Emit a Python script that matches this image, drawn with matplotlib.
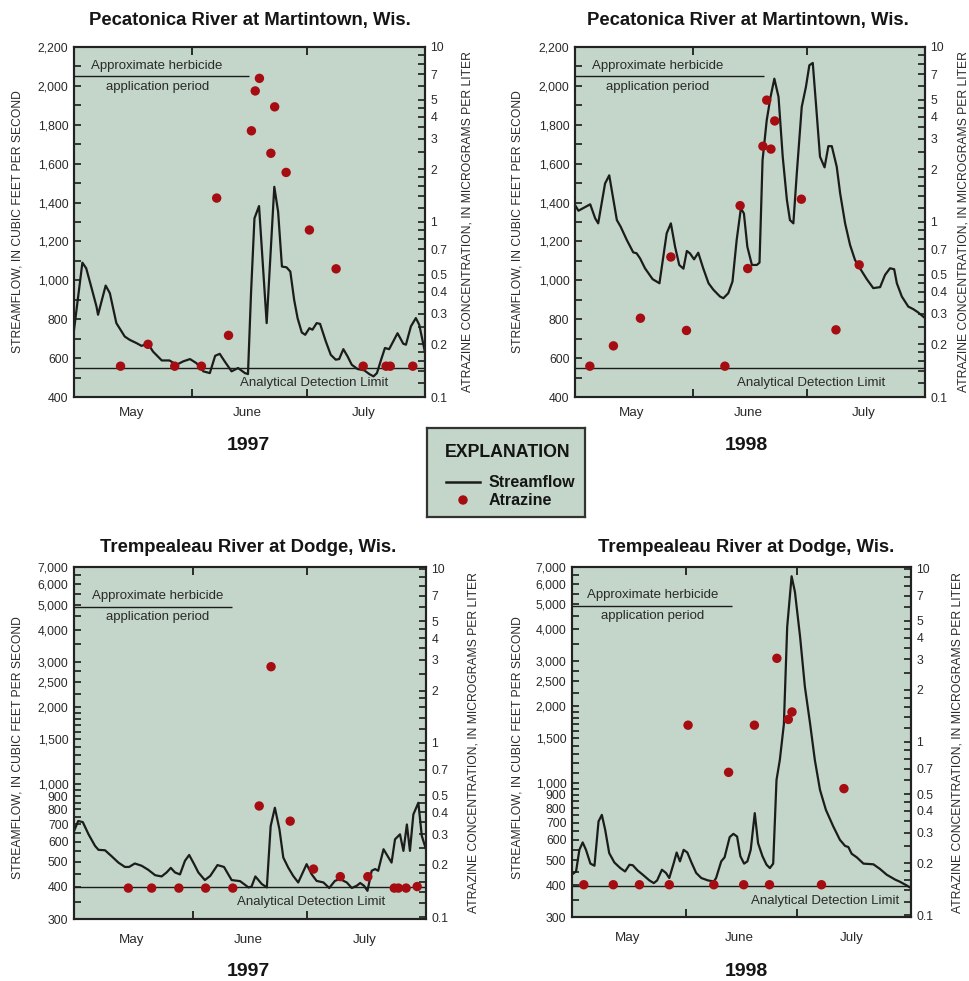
import matplotlib
matplotlib.use('Agg')
import matplotlib.pyplot as plt
from matplotlib.ticker import FixedLocator, NullFormatter, FuncFormatter

FONT = ['Liberation Sans', 'DejaVu Sans']
plt.rcParams['font.family'] = FONT

# ---------------- data (days since May 1) ----------------
months = ['May', 'June', 'July']
month_bounds = [31, 61]
month_mids = [15, 45.5, 76]
period_len = 92

titles = ['Pecatonica River at Martintown, Wis.', 'Pecatonica River at Martintown, Wis.',
          'Trempealeau River at Dodge, Wis.', 'Trempealeau River at Dodge, Wis.']
years = ['1997', '1998', '1997', '1998']

# Pecatonica 1997
p1_days = [0, 2.2, 3.2, 4.5, 5.9, 6.3, 8.3, 9.4, 11.1, 13.3, 14.6, 16.4, 17.7, 19.4, 20.7,
           23.0, 25.0, 26.9, 28.6, 30.4, 32.1, 33.9, 35.6, 37.0, 38.2, 39.5, 41.3, 43.0, 44.8,
           45.6, 46.4, 47.3, 48.5, 50.5, 52.5, 53.5, 54.5, 55.7, 56.7, 57.7, 58.6, 59.7, 60.6,
           61.7, 62.5, 63.6, 64.5, 66.0, 67.3, 68.6, 69.5, 70.6, 71.7, 72.8, 74.3, 76.1, 77.4,
           78.5, 79.4, 80.5, 81.5, 82.6, 84.8, 86.3, 87.0, 88.3, 89.6, 90.5, 92.0]
p1_flow = [745, 1091, 1062, 968, 865, 823, 973, 934, 780, 711, 694, 677, 663, 674, 634,
           588, 588, 566, 583, 595, 574, 532, 523, 612, 622, 583, 532, 549, 523,
           518, 934, 1319, 1382, 780, 1481, 1353, 1071, 1067, 1045, 900, 806, 732, 720,
           754, 746, 780, 776, 686, 617, 592, 595, 646, 609, 566, 544, 537, 518,
           506, 523, 592, 652, 646, 728, 674, 669, 763, 806, 771, 630]
p1_atz_days = [12.2, 19.4, 26.4, 33.4, 37.4, 40.5, 46.5, 47.5, 48.6, 51.6, 52.6, 55.6,
               61.7, 68.7, 75.8, 81.8, 82.9, 88.8]
p1_atz = [0.15, 0.20, 0.15, 0.15, 1.37, 0.225, 3.32, 5.61, 6.62, 2.47, 4.55, 1.92,
          0.90, 0.54, 0.15, 0.15, 0.15, 0.15]

# Pecatonica 1998
p2_days = [0, 0.9, 4.0, 5.3, 6.1, 7.9, 9.0, 11.0, 12.0, 13.6, 15.3, 16.2, 17.1, 18.4, 20.4,
           22.2, 24.1, 25.2, 26.3, 27.4, 28.5, 29.4, 30.2, 31.3, 32.4, 33.7, 35.1, 36.4, 38.1,
           39.0, 40.3, 41.4, 42.5, 43.6, 44.4, 45.3, 46.5, 47.8, 48.5, 49.3, 50.4, 51.4, 52.4,
           53.5, 54.6, 55.7, 56.5, 57.4, 58.3, 59.6, 60.7, 61.6, 62.5, 63.4, 64.4, 65.6, 66.6,
           67.5, 68.8, 69.7, 71.0, 72.3, 73.6, 74.9, 76.7, 78.4, 80.2, 81.5, 82.8, 83.9, 84.6,
           85.9, 87.6, 88.9, 90.2, 92.0]
p2_flow = [1387, 1358, 1391, 1319, 1293, 1498, 1540, 1310, 1276, 1208, 1144, 1139, 1113, 1062,
           1006, 985, 1242, 1293, 1173, 1079, 1060, 1151, 1139, 1108, 1142, 1062, 985, 951, 917,
           908, 934, 994, 1208, 1370, 1344, 1173, 1079, 1079, 1091, 1618, 1824, 1943, 2037,
           1943, 1636, 1413, 1310, 1293, 1550, 1892, 1995, 2106, 2118, 1892, 1636, 1581, 1690,
           1690, 1584, 1447, 1293, 1182, 1105, 1062, 1006, 960, 965, 1028, 1062, 1057, 985,
           917, 865, 852, 835, 806]
p2_atz_days = [3.9, 10.1, 17.2, 25.2, 29.3, 39.4, 43.4, 45.4, 49.4, 50.4, 51.5, 52.5,
               59.5, 68.6, 74.7]
p2_atz = [0.15, 0.196, 0.282, 0.631, 0.240, 0.15, 1.24, 0.542, 2.71, 4.97, 2.61, 3.78,
          1.35, 0.242, 0.569]

# Trempealeau 1997
p3_days = [0, 1.1, 2.3, 3.8, 5.5, 6.4, 8.1, 9.9, 11.6, 13.3, 14.4, 15.9, 17.7, 19.4, 21.2,
           22.9, 24.2, 25.3, 26.4, 27.7, 29.0, 30.1, 31.4, 32.5, 34.2, 35.6, 37.5, 39.2, 41.2,
           43.4, 45.6, 46.4, 47.4, 49.1, 50.4, 51.4, 52.5, 53.7, 54.7, 56.0, 57.3, 58.6, 60.8,
           62.1, 63.4, 65.2, 66.7, 68.2, 69.5, 71.3, 72.6, 73.9, 74.8, 75.8, 76.7, 77.8, 78.7,
           79.5, 80.9, 82.2, 83.0, 83.9, 85.2, 86.1, 87.0, 87.8, 88.7, 90.0, 90.9, 92.0]
p3_flow = [659, 721, 714, 640, 577, 557, 555, 525, 497, 478, 478, 493, 483, 466, 444,
           439, 455, 474, 455, 447, 505, 532, 490, 455, 425, 441, 486, 478, 425,
           421, 398, 401, 439, 410, 398, 689, 812, 669, 520, 475, 441, 416, 490,
           448, 422, 416, 396, 422, 429, 416, 396, 404, 414, 404, 386, 462, 469,
           462, 560, 520, 497, 612, 640, 552, 699, 552, 765, 849, 631, 560]
p3_atz_days = [14.2, 20.3, 27.4, 34.4, 41.5, 48.4, 51.5, 56.5, 62.6, 69.6, 76.8, 83.7,
               84.8, 86.8, 89.7]
p3_atz = [0.147, 0.147, 0.147, 0.147, 0.147, 0.435, 2.74, 0.356, 0.189, 0.171, 0.171,
          0.147, 0.147, 0.147, 0.150]

# Trempealeau 1998
p4_days = [0, 1.1, 2.0, 2.9, 3.8, 5.0, 6.1, 7.2, 8.1, 9.0, 10.1, 11.5, 13.1, 14.4, 15.6,
           16.5, 17.8, 19.2, 21.0, 22.2, 23.1, 24.4, 25.5, 26.4, 27.6, 28.4, 29.3, 30.3, 31.3,
           32.5, 33.7, 35.1, 36.9, 38.5, 39.1, 40.5, 41.4, 42.8, 43.8, 44.8, 45.7, 46.7, 47.6,
           48.5, 49.6, 50.5, 51.7, 52.8, 53.7, 54.6, 55.5, 56.4, 57.5, 58.4, 59.6, 60.5, 61.9,
           63.2, 64.6, 65.9, 67.3, 68.9, 70.9, 72.7, 74.1, 75.0, 75.9, 77.3, 79.1, 81.8, 83.6,
           85.4, 87.7, 89.0, 90.9, 92.0]
p4_flow = [440, 452, 549, 587, 549, 485, 476, 709, 752, 658, 533, 490, 466, 452, 480,
           478, 456, 439, 417, 407, 417, 459, 446, 426, 487, 536, 495, 549, 536,
           487, 446, 426, 417, 413, 426, 495, 513, 616, 634, 619, 518, 485, 495,
           549, 764, 583, 518, 480, 466, 485, 1030, 1233, 1700, 4085, 6440, 5594, 3734,
           2383, 1715, 1233, 942, 787, 678, 601, 569, 563, 530, 513, 485, 482, 462,
           439, 420, 412, 398, 389]
p4_atz_days = [3.2, 11.2, 18.3, 26.4, 31.5, 38.5, 42.5, 46.6, 49.5, 53.6, 55.6, 58.7,
               59.7, 67.7, 73.8]
p4_atz = [0.15, 0.15, 0.15, 0.15, 1.25, 0.15, 0.668, 0.15, 1.25, 0.15, 3.04, 1.35,
          1.49, 0.15, 0.538]

# herbicide application period end (days) and detection limits (ug/L)
app_end = [45.9, 49.7, 41.2, 43.3]
app_level = [2050, 2050, 4900, 4950]
det_limit = [0.147, 0.147, 0.150, 0.148]

# axis tick values
lin_major = list(range(400, 2201, 200))
lin_minor = list(range(500, 2200, 200))
log_major = [300, 400, 500, 600, 700, 800, 900, 1000, 1500, 2000, 2500, 3000, 4000, 5000, 6000, 7000]
log_minor = [350, 450, 550, 650, 750, 850, 950, 1100, 1200, 1300, 1400, 1600, 1700,
             1800, 1900, 2250, 2750, 3500, 4500, 5500, 6500]
atz_major = [0.1, 0.2, 0.3, 0.4, 0.5, 0.7, 1, 2, 3, 4, 5, 7, 10]
atz_minor = [0.12, 0.14, 0.16, 0.18, 0.25, 0.35, 0.45, 0.6, 0.8, 0.9,
             1.2, 1.4, 1.6, 1.8, 2.5, 3.5, 4.5, 6, 8, 9]

left_label = 'STREAMFLOW, IN CUBIC FEET PER SECOND'
right_label = 'ATRAZINE CONCENTRATION, IN MICROGRAMS PER LITER'

# ---------------- style ----------------
BG = '#c3d6c9'
DOT = '#a50d12'
INK = '#1c1c1c'
TXT = '#2a2a2a'
W, H = 969, 981

fig = plt.figure(figsize=(W / 100, H / 100), dpi=100)


def rect(l, t, r, b):
    return [l / W, 1 - b / H, (r - l) / W, (b - t) / H]


def fx(x):
    return x / W


def fy(y):
    return 1 - y / H


def comma(v, _):
    return f'{v:,.0f}'


def gfmt(v, _):
    return f'{v:g}'


def panel(i, box, log_flow, days, flow, a_days, a_vals, det_text_day, month_pad):
    ax = fig.add_axes(rect(*box))
    ax.set_facecolor(BG)
    ax.plot(days, flow, color=INK, lw=1.6, zorder=2)
    ax.hlines(app_level[i], 0, app_end[i], color=INK, lw=1.0, zorder=2)
    ax.annotate('Approximate herbicide', xy=(21.8, app_level[i]), xytext=(0, 7.5),
                textcoords='offset points', ha='center', va='center', fontsize=9.5, color=TXT)
    ax.annotate('application period', xy=(21.8, app_level[i]), xytext=(0, -7.5),
                textcoords='offset points', ha='center', va='center', fontsize=9.5, color=TXT)
    ax.set_xlim(0, period_len)
    if log_flow:
        ax.set_yscale('log')
        ax.set_ylim(300, 7000)
        ax.yaxis.set_major_locator(FixedLocator(log_major))
        ax.yaxis.set_minor_locator(FixedLocator(log_minor))
        rlim = (0.0977, 10.23)
    else:
        ax.set_ylim(400, 2200)
        ax.yaxis.set_major_locator(FixedLocator(lin_major))
        ax.yaxis.set_minor_locator(FixedLocator(lin_minor))
        rlim = (0.1, 10)
    ax.yaxis.set_major_formatter(FuncFormatter(comma))
    ax.yaxis.set_minor_formatter(NullFormatter())
    ax.tick_params(axis='y', which='both', direction='in', length=5, width=1.2,
                   labelsize=8.8, labelcolor=TXT, pad=4, color=INK)
    ax.set_xticks(month_bounds)
    ax.set_xticklabels([])
    ax.set_xticks(month_mids, minor=True)
    ax.set_xticklabels(months, minor=True)
    ax.tick_params(axis='x', which='major', direction='in', length=6, width=1.3,
                   top=True, bottom=True, color=INK)
    ax.tick_params(axis='x', which='minor', length=0, labelsize=9.6, labelcolor=TXT,
                   pad=month_pad)

    ax2 = ax.twinx()
    ax2.set_yscale('log')
    ax2.set_ylim(*rlim)
    ax2.yaxis.set_major_locator(FixedLocator(atz_major))
    ax2.yaxis.set_minor_locator(FixedLocator(atz_minor))
    ax2.yaxis.set_major_formatter(FuncFormatter(gfmt))
    ax2.yaxis.set_minor_formatter(NullFormatter())
    ax2.tick_params(axis='y', which='both', direction='in', length=5, width=1.2,
                    labelsize=8.8, labelcolor=TXT, pad=4, color=INK)
    ax2.axhline(det_limit[i], color=INK, lw=1.0, zorder=2)
    ax2.annotate('Analytical Detection Limit', xy=(det_text_day, det_limit[i]),
                 xytext=(0, -11), textcoords='offset points', ha='center', va='center',
                 fontsize=9.5, color=TXT)
    ax2.scatter(a_days, a_vals, s=46, color=DOT, edgecolors='none', zorder=4, clip_on=False)
    for a in (ax, ax2):
        for s in a.spines.values():
            s.set_linewidth(1.5)
            s.set_color('#222222')
    return ax


panel(0, (74, 47, 425, 397), False, p1_days, p1_flow, p1_atz_days, p1_atz, 63.0, 7)
panel(1, (575, 47, 925, 397), False, p2_days, p2_flow, p2_atz_days, p2_atz, 62.0, 7)
panel(2, (74, 567, 426, 919), True, p3_days, p3_flow, p3_atz_days, p3_atz, 62.1, 11)
panel(3, (572, 567, 911, 917), True, p4_days, p4_flow, p4_atz_days, p4_atz, 68.7, 11)

# titles, years, axis labels
title_pos = [(250, 20), (748, 20), (248, 548), (746, 548)]
year_pos = [(248, 444), (746, 444), (248, 970), (746, 970)]
for (tx, ty), t in zip(title_pos, titles):
    fig.text(fx(tx), fy(ty), t, ha='center', va='center', fontsize=13.3,
             fontweight='bold', color='#151515')
for (tx, ty), t in zip(year_pos, years):
    fig.text(fx(tx), fy(ty + 2), t, ha='center', va='center', fontsize=14,
             fontweight='bold', color='#151515')

ylab_pos = [((18, 222), (468, 222)), ((517, 222), (964, 222)),
            ((18, 748), (473, 743)), ((517, 748), (957, 743))]
for (lp, rp) in ylab_pos:
    fig.text(fx(lp[0]), fy(lp[1]), left_label, rotation=90, ha='center', va='center',
             fontsize=8.7, color=TXT)
    fig.text(fx(rp[0]), fy(rp[1]), right_label, rotation=90, ha='center', va='center',
             fontsize=8.7, color=TXT)

# explanation box
ex = fig.add_axes(rect(427, 428, 585, 517))
ex.set_facecolor(BG)
ex.set_xlim(0, 158)
ex.set_ylim(89, 0)
ex.set_xticks([])
ex.set_yticks([])
for s in ex.spines.values():
    s.set_linewidth(1.6)
    s.set_color('#333333')
ex.text(81, 24, 'EXPLANATION', ha='center', va='center', fontsize=12.8,
        fontweight='bold', color='#151515')
ex.plot([19, 53], [54, 54], color=INK, lw=1.8)
ex.text(62, 54, 'Streamflow', ha='left', va='center', fontsize=11.5,
        fontweight='bold', color='#151515')
ex.scatter([36], [72], s=46, color=DOT, edgecolors='none')
ex.text(62, 72, 'Atrazine', ha='left', va='center', fontsize=11.5,
        fontweight='bold', color='#151515')

fig.savefig('out.png', dpi=100)
